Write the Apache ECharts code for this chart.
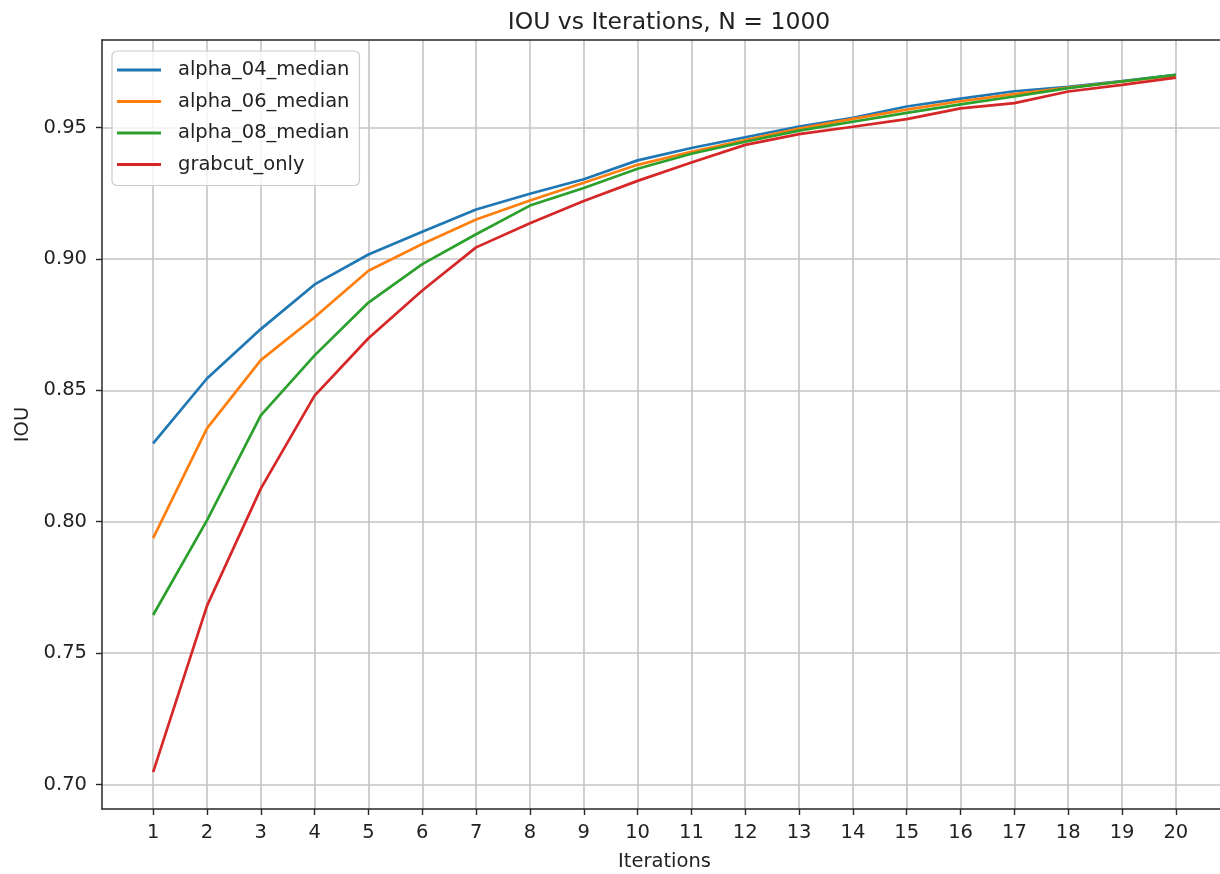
<!DOCTYPE html>
<html>
<head>
<meta charset="utf-8">
<title>IOU vs Iterations</title>
<script src="https://cdn.jsdelivr.net/npm/echarts@6/dist/echarts.min.js"></script>
<style>
  html, body { margin: 0; padding: 0; background: #ffffff; }
  #chart { width: 1220px; height: 874px; }
</style>
</head>
<body>
<div id="chart"></div>
<script>
// Iteration steps (x axis)
const iterations = [1, 2, 3, 4, 5, 6, 7, 8, 9, 10, 11, 12, 13, 14, 15, 16, 17, 18, 19, 20];

// Median IOU per iteration for each configuration
const alpha04Median = [0.8298, 0.8545, 0.8733, 0.8903, 0.9017, 0.9103, 0.9188, 0.9248, 0.9303, 0.9375,
                       0.9422, 0.9463, 0.9504, 0.9537, 0.9580, 0.9610, 0.9638, 0.9655, 0.9677, 0.9700];
const alpha06Median = [0.7938, 0.8355, 0.8615, 0.8778, 0.8955, 0.9057, 0.9150, 0.9222, 0.9290, 0.9358,
                       0.9408, 0.9452, 0.9496, 0.9533, 0.9568, 0.9600, 0.9627, 0.9652, 0.9675, 0.9698];
const alpha08Median = [0.7645, 0.8005, 0.8405, 0.8633, 0.8834, 0.8980, 0.9094, 0.9203, 0.9270, 0.9343,
                       0.9400, 0.9446, 0.9488, 0.9522, 0.9556, 0.9588, 0.9618, 0.9650, 0.9675, 0.9700];
const grabcutOnly   = [0.7047, 0.7680, 0.8126, 0.8480, 0.8698, 0.8880, 0.9044, 0.9136, 0.9220, 0.9297,
                       0.9367, 0.9434, 0.9475, 0.9503, 0.9532, 0.9573, 0.9593, 0.9637, 0.9662, 0.9690];

// Y tick values
const yTicks = [0.70, 0.75, 0.80, 0.85, 0.90, 0.95];

const seriesNames = ['alpha_04_median', 'alpha_06_median', 'alpha_08_median', 'grabcut_only'];
const seriesValues = [alpha04Median, alpha06Median, alpha08Median, grabcutOnly];
const seriesColors = ['#1f77b4', '#ff7f0e', '#2ca02c', '#d62728'];

const FONT = 'DejaVu Sans';
const TEXT = '#222222';
const SPINE = { color: '#262626', width: 1.5 };

const chart = echarts.init(document.getElementById('chart'), null, { renderer: 'canvas' });

const option = {
  backgroundColor: '#ffffff',
  animation: false,
  title: {
    text: 'IOU vs Iterations, N = 1000',
    left: 664,
    top: 6,
    textAlign: 'center',
    textStyle: { fontFamily: FONT, fontSize: 23.5, fontWeight: 'normal', color: TEXT }
  },
  legend: {
    orient: 'vertical',
    left: 112,
    top: 51,
    padding: [9, 10, 11, 5],
    icon: 'rect',
    itemWidth: 44,
    itemHeight: 2.8,
    itemGap: 11.5,
    backgroundColor: 'rgba(255,255,255,0.8)',
    borderColor: '#cccccc',
    borderWidth: 1.2,
    borderRadius: 5,
    textStyle: { fontFamily: FONT, fontSize: 19.5, color: TEXT, padding: [0, 0, 0, 12] },
    data: seriesNames
  },
  grid: {
    left: 102,
    top: 40,
    width: 1125,
    height: 769,
    outerBoundsMode: 'none',
    containLabel: false,
    show: false
  },
  xAxis: [{
    type: 'value',
    position: 'bottom',
    min: 0.05,
    max: 20.95,
    name: 'Iterations',
    nameLocation: 'middle',
    nameGap: 43,
    nameTextStyle: { fontFamily: FONT, fontSize: 19.5, color: TEXT },
    axisLine: { show: true, onZero: false, lineStyle: SPINE },
    axisTick: { show: true, length: 6, inside: false, customValues: iterations,
                lineStyle: { color: '#262626', width: 1.4 } },
    axisLabel: { customValues: iterations, margin: 14, fontFamily: FONT, fontSize: 19.5, color: TEXT },
    splitLine: { show: true, lineStyle: { color: '#c4c4c4', width: 1.6 } }
  }, {
    // top spine of the axes box
    type: 'value',
    position: 'top',
    min: 0.05,
    max: 20.95,
    axisLine: { show: true, onZero: false, lineStyle: SPINE },
    axisTick: { show: false },
    axisLabel: { show: false },
    splitLine: { show: false }
  }],
  yAxis: {
    type: 'value',
    min: 0.6907,
    max: 0.9833,
    name: 'IOU',
    nameLocation: 'middle',
    nameGap: 68,
    nameTextStyle: { fontFamily: FONT, fontSize: 19.5, color: TEXT },
    axisLine: { show: true, onZero: false, lineStyle: SPINE },
    axisTick: { show: true, length: 6, inside: false, customValues: yTicks,
                lineStyle: { color: '#262626', width: 1.4 } },
    axisLabel: { customValues: yTicks, margin: 15, fontFamily: FONT, fontSize: 19.5, color: TEXT,
                 formatter: v => v.toFixed(2) },
    splitLine: { show: true, lineStyle: { color: '#c4c4c4', width: 1.6 } }
  },
  series: seriesNames.map((name, i) => ({
    name: name,
    type: 'line',
    xAxisIndex: 0,
    symbol: 'none',
    smooth: false,
    color: seriesColors[i],
    lineStyle: { width: 2.7, color: seriesColors[i] },
    data: iterations.map((it, j) => [it, seriesValues[i][j]])
  }))
};

chart.setOption(option);
</script>
</body>
</html>
